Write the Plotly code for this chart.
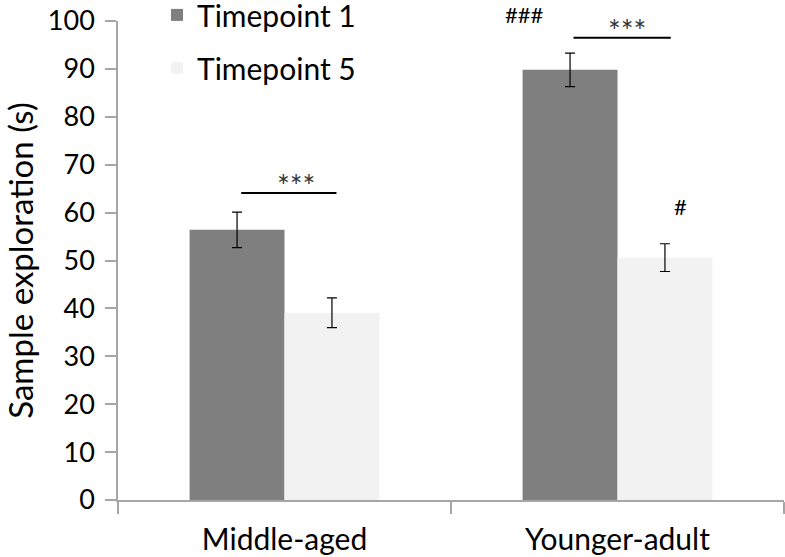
import plotly.graph_objects as go

categories = ["Middle-aged", "Younger-adult"]
series_names = ["Timepoint 1", "Timepoint 5"]
tp1_values = [56.4, 89.8]
tp1_err = [3.7, 3.5]
tp5_values = [39.1, 50.6]
tp5_err = [3.1, 2.9]
y_ticks = [0, 10, 20, 30, 40, 50, 60, 70, 80, 90, 100]

FONT = "Lato, sans-serif"

fig = go.Figure()
fig.add_trace(go.Bar(
    x=categories, y=tp1_values, name=series_names[0], legendgroup="a",
    marker=dict(color="#7f7f7f", line=dict(width=0)),
    error_y=dict(type="data", array=tp1_err, color="#000000", thickness=1.2, width=5),
))
fig.add_trace(go.Bar(
    x=categories, y=tp5_values, name=series_names[1], legendgroup="b",
    marker=dict(color="#f2f2f2", line=dict(width=0)),
    error_y=dict(type="data", array=tp5_err, color="#000000", thickness=1.2, width=5),
))

# significance brackets
fig.add_shape(type="line", xref="x", yref="y", x0=-0.13, x1=0.156, y0=64.1, y1=64.1,
              line=dict(color="#000000", width=2))
fig.add_shape(type="line", xref="x", yref="y", x0=0.868, x1=1.16, y0=96.5, y1=96.5,
              line=dict(color="#000000", width=2))
star_font = dict(family=FONT, size=30, color="#333333")
hash_font = dict(family=FONT, size=22, color="#000000")
fig.add_annotation(x=0.035, y=64.1, xref="x", yref="y", text="***", showarrow=False,
                   yanchor="bottom", yshift=-12, font=star_font)
fig.add_annotation(x=1.03, y=96.5, xref="x", yref="y", text="***", showarrow=False,
                   yanchor="bottom", yshift=-12, font=star_font)
fig.add_annotation(x=0.72, y=1.0146, xref="x", yref="paper", text="###", showarrow=False,
                   yanchor="middle", font=hash_font)
fig.add_annotation(x=1.19, y=61.2, xref="x", yref="y", text="#", showarrow=False,
                   yanchor="middle", font=hash_font)

fig.update_layout(
    width=785, height=557,
    margin=dict(l=118, r=1, t=21, b=57, autoexpand=False),
    paper_bgcolor="#ffffff", plot_bgcolor="#ffffff",
    font=dict(family=FONT, size=28, color="#000000"),
    barmode="group", bargap=0.43, bargroupgap=0,
    showlegend=True,
    legend=dict(x=0.0586, y=1.067, xanchor="left", yanchor="top",
                font=dict(family=FONT, size=30, color="#000000"),
                tracegroupgap=11, bgcolor="rgba(0,0,0,0)"),
    xaxis=dict(showline=True, linecolor="#a6a6a6", linewidth=1.5, automargin=False,
               ticks="outside", tickson="boundaries", ticklen=12, tickcolor="#a6a6a6",
               tickwidth=1.5, tickfont=dict(family=FONT, size=30), showgrid=False,
               ticklabelstandoff=12, range=[-0.5, 1.5]),
    yaxis=dict(range=[0, 100], tickvals=y_ticks, showline=True, linecolor="#a6a6a6",
               linewidth=1.5, ticks="outside", ticklen=11, tickcolor="#a6a6a6", tickwidth=1.5,
               tickfont=dict(family=FONT, size=27), showgrid=False, zeroline=False,
               automargin=False, ticklabelstandoff=5,
               title=dict(text="Sample exploration (s)", font=dict(family=FONT, size=33),
                          standoff=21)),
)

fig.write_html("out.html", config={"displayModeBar": False},
               post_script="document.body.style.margin='0';")
